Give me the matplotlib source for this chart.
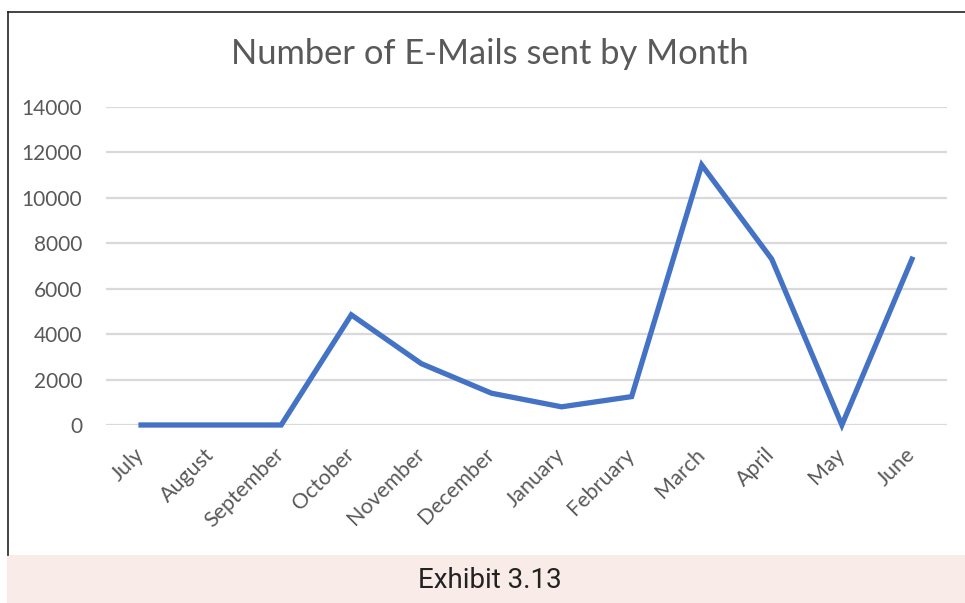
import matplotlib.pyplot as plt
from matplotlib.lines import Line2D
from matplotlib.patches import Rectangle

months = ['July', 'August', 'September', 'October', 'November', 'December',
          'January', 'February', 'March', 'April', 'May', 'June']
emails = [0, 0, 0, 4850, 2700, 1400, 800, 1250, 11450, 7300, 0, 7300]
y_ticks = [0, 2000, 4000, 6000, 8000, 10000, 12000, 14000]

text_color = '#595959'

fig = plt.figure(figsize=(9.65, 6.03), dpi=100)
W, H = 965, 603

ax = fig.add_axes([106 / W, 1 - 425 / H, (947 - 106) / W, (425 - 107) / H])
x = range(len(months))
ax.plot(x, emails, color='#4472C4', linewidth=3.8, solid_joinstyle='miter',
        clip_on=False, zorder=3)

ax.set_xlim(-0.5, len(months) - 0.5)
ax.set_ylim(0, 14000)
ax.set_yticks(y_ticks)
ax.set_yticklabels([str(v) for v in y_ticks], fontfamily='Lato', fontsize=15,
                   color=text_color)
ax.set_xticks(list(x))
ax.set_xticklabels(months, rotation=45, ha='right', va='center',
                   rotation_mode='anchor', fontfamily='Lato', fontsize=15.5,
                   color=text_color)
ax.tick_params(axis='both', length=0)
ax.tick_params(axis='y', pad=17)
ax.tick_params(axis='x', pad=19)
for s in ax.spines.values():
    s.set_visible(False)
ax.grid(axis='y', color='#D9D9D9', linewidth=1.6)
ax.set_axisbelow(True)

fig.text(490 / W, 1 - 54 / H, 'Number of E-Mails sent by Month', ha='center',
         va='center', fontfamily='Lato', fontsize=24.8, color=text_color)

# frame around the chart and caption strip below it
fig.add_artist(Line2D([8 / W, 8 / W], [1 - 555 / H, 1 - 12 / H], color='#222222',
                      linewidth=1.2, transform=fig.transFigure))
fig.add_artist(Line2D([8 / W, 1.0], [1 - 12 / H, 1 - 12 / H], color='#222222',
                      linewidth=1.2, transform=fig.transFigure))
fig.add_artist(Rectangle((7 / W, 0), 1 - 7 / W, 48 / H, facecolor='#F9EBE7',
                         edgecolor='none', transform=fig.transFigure))
fig.text(490 / W, 1 - 580 / H, 'Exhibit 3.13', ha='center', va='center',
         fontfamily='Roboto', fontsize=20, color='#222222')

fig.savefig('out.png', dpi=100)
